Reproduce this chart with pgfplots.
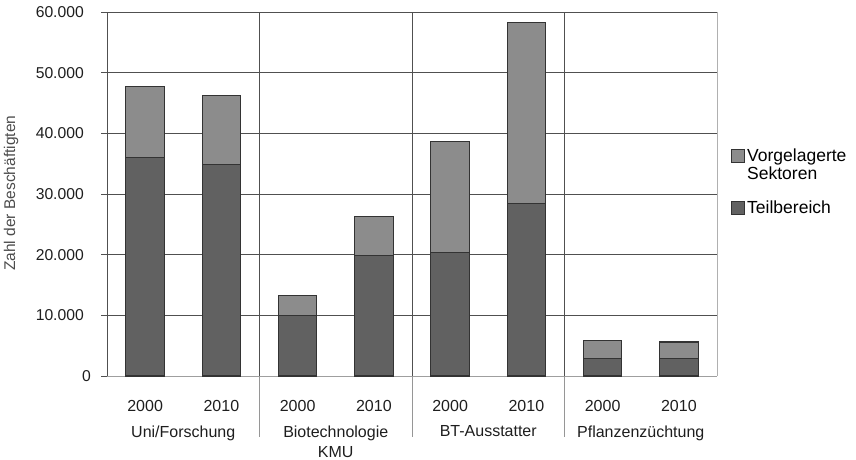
\documentclass[border=0pt]{standalone}
\usepackage{fontspec}
\setmainfont{Liberation Sans}
\usepackage{pgfplots}
\pgfplotsset{compat=1.18}

\definecolor{lightbar}{HTML}{8C8C8C}
\definecolor{darkbar}{HTML}{616161}
\definecolor{edge}{HTML}{333333}
\definecolor{gridc}{HTML}{505050}
\definecolor{txt}{HTML}{1E1E1E}

% employees: core sector and upstream sectors (stacked on top)
\pgfplotstableread{
x  teil   vor
0  36000  11700
1  34900  11400
2  10000   3300
3  19800   6500
4  20300  18300
5  28500  29700
6   2900   2900
7   2900   2700
}\beschaeftigte

\pgfplotsset{
  teilstyle/.style={fill=darkbar, draw=edge, line width=1.1pt},
  vorstyle/.style={fill=lightbar, draw=edge, line width=1.1pt},
}

\begin{document}
\begin{tikzpicture}
\begin{axis}[
  at={(107pt,83pt)}, anchor=south west,
  scale only axis, width=610pt, height=364pt,
  xmin=-0.5, xmax=7.5, ymin=0, ymax=60000,
  ybar stacked, bar width=38.5pt,
  axis lines*=left,
  axis line style={gridc, line width=0.9pt},
  x axis line style={gridc!55},
  font=\fontsize{16}{19}\selectfont,
  xtick={0,...,7},
  xticklabels={2000,2010,2000,2010,2000,2010,2000,2010},
  x tick style={draw=none},
  xticklabel style={anchor=base, yshift=-29.5pt, text=txt,
    font=\fontsize{16}{19}\selectfont},
  ytick={0,10000,...,60000},
  yticklabels={{0\kern-7pt},10.000,20.000,30.000,40.000,50.000,60.000},
  scaled y ticks=false,
  tick align=outside,
  major tick length=6pt,
  y tick style={gridc, line width=0.9pt},
  yticklabel style={anchor=east, inner sep=0pt, text=txt,
    font=\fontsize{15.7}{19}\selectfont},
  yticklabel shift=17pt,
  ymajorgrids,
  grid style={gridc, line width=0.9pt},
  ylabel={Zahl der Beschäftigten},
  ylabel style={at={(axis description cs:-0.157,0.502)}, anchor=center,
    font=\fontsize{15.5}{17}\selectfont, text=black!70},
  legend style={at={(1.022,0.63)}, anchor=north west, draw=none,
    fill=none, inner sep=0pt, row sep=0pt, column sep=1pt,
    font=\fontsize{17.5}{20}\selectfont,
    cells={anchor=west, text height=12.5pt, text depth=3.5pt, inner sep=1pt}},
  legend image code/.code={\draw[#1, line width=0.6pt] (0pt,-6.5pt) rectangle (13pt,6.5pt);},
]
\addplot[teilstyle, forget plot] table[x=x, y=teil] {\beschaeftigte};
\addplot[vorstyle, forget plot] table[x=x, y=vor] {\beschaeftigte};

% legend: upstream sectors first, core sector below
\addlegendimage{vorstyle}
\addlegendentry{Vorgelagerte}
\addlegendimage{empty legend}
\addlegendentry{Sektoren}
\addlegendimage{empty legend}
\addlegendentry[text height=6pt, text depth=6pt]{}
\addlegendimage{teilstyle}
\addlegendentry{Teilbereich}

% reference points for the group decoration drawn below
\coordinate (sA) at (axis cs:1.5,60000);
\coordinate (sB) at (axis cs:3.5,60000);
\coordinate (sC) at (axis cs:5.5,60000);
\coordinate (bA) at (axis cs:1.5,0);
\coordinate (bB) at (axis cs:3.5,0);
\coordinate (bC) at (axis cs:5.5,0);
\coordinate (gA) at (axis cs:0.5,0);
\coordinate (gB) at (axis cs:2.5,0);
\coordinate (gC) at (axis cs:4.5,0);
\coordinate (gD) at (axis cs:6.5,0);
\coordinate (rB) at (axis cs:7.5,0);
\coordinate (rT) at (axis cs:7.5,60000);
\end{axis}

% right edge of the plot area
\draw[gridc!45, line width=0.9pt] (rB) -- (rT);
% separators between the groups
\draw[gridc, line width=0.9pt] (sA) -- (bA);
\draw[gridc, line width=0.9pt] (sB) -- (bB);
\draw[gridc, line width=0.9pt] (sC) -- (bC);
\draw[gridc!60, line width=0.9pt] (bA) -- ([yshift=-61pt]bA);
\draw[gridc!60, line width=0.9pt] (bB) -- ([yshift=-61pt]bB);
\draw[gridc!60, line width=0.9pt] (bC) -- ([yshift=-61pt]bC);

% group names
\tikzset{grp/.style={anchor=north, align=center, text=txt,
  font=\fontsize{16}{20}\selectfont}}
\node[grp] at ([yshift=-46pt]gA) {Uni/Forschung};
\node[grp] at ([yshift=-46pt]gB) {Biotechnologie\\KMU};
\node[grp] at ([yshift=-46pt]gC) {BT-Ausstatter};
\node[grp] at ([yshift=-46pt]gD) {Pflanzenzüchtung};

\pgfresetboundingbox
\path[use as bounding box] (0,0) rectangle (856pt,459pt);
\end{tikzpicture}
\end{document}
